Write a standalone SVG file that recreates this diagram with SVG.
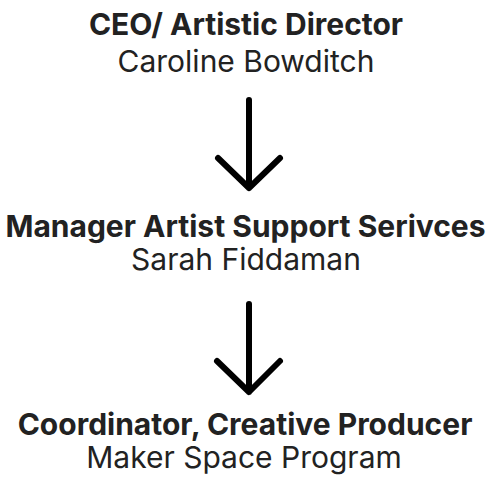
<svg xmlns="http://www.w3.org/2000/svg" width="490" height="488" viewBox="0 0 490 488">
<style>
text{font-family:Inter,"Noto Sans","Liberation Sans",sans-serif;font-size:30px;fill:#222;text-anchor:middle}
.t{font-weight:700}
.c{fill:none;stroke:#000;stroke-width:6;stroke-linecap:round;stroke-linejoin:round}
</style>
<rect width="490" height="488" fill="#fff"/>
<g id="node-ceo">
<text class="t" x="246" y="35">CEO/ Artistic Director</text>
<text x="246" y="72">Caroline Bowditch</text>
</g>
<g id="node-manager">
<text class="t" x="245.5" y="237">Manager Artist Support Serivces</text>
<text x="246" y="270">Sarah Fiddaman</text>
</g>
<g id="node-coordinator">
<text class="t" x="245" y="435">Coordinator, Creative Producer</text>
<text x="244" y="468">Maker Space Program</text>
</g>
<g id="connectors">
<path class="c" d="M249 100V188M218 158L249 188L280 158"/>
<path class="c" d="M249 304V392M217 361L249 392L280 361"/>
</g>
</svg>
